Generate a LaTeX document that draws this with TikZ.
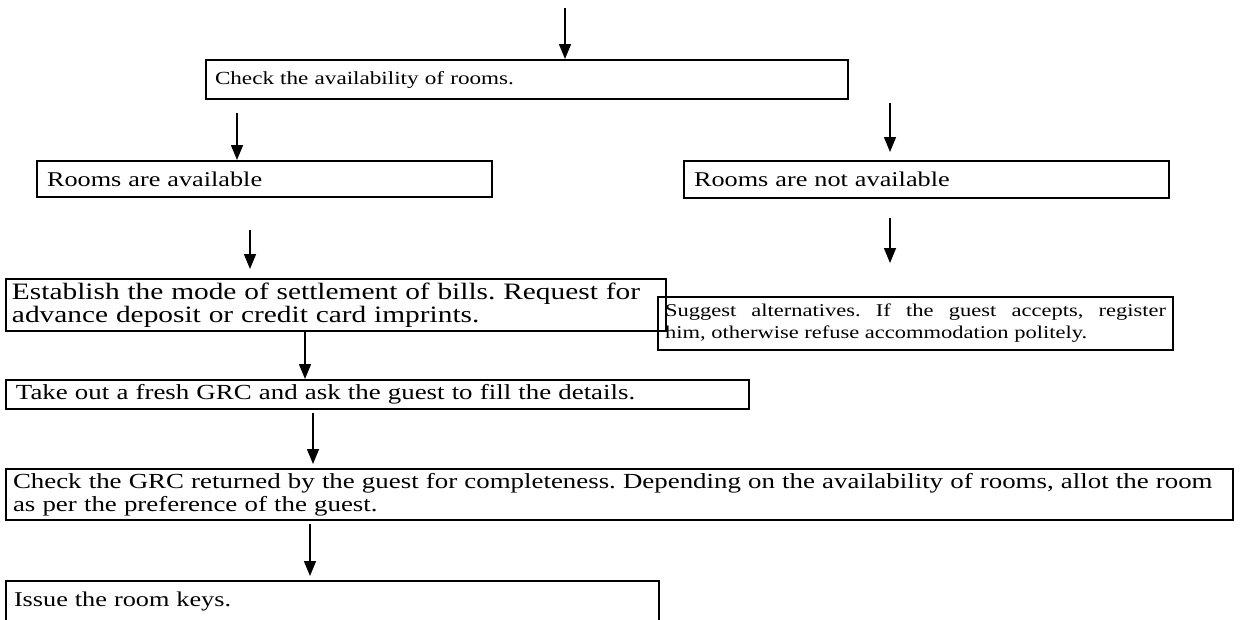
\documentclass[tikz,border=0pt]{standalone}
\usepackage{fontspec}
\setmainfont{Liberation Serif}[FakeStretch=1.25]
\usetikzlibrary{arrows.meta}
\begin{document}
\frenchspacing
\begin{tikzpicture}[x=1pt,y=-1pt,
  box/.style={draw,line width=2pt,anchor=north west,inner xsep=0pt,inner ysep=0pt,
    align=left,font=\fontsize{21}{22.5}\selectfont},
  arr/.style={line width=1.5pt,-{Triangle[length=15pt,width=12pt]}}]
\useasboundingbox (0,0) rectangle (1242,619);

\node[box,minimum width=642,minimum height=39,text width=624,font=\fontsize{18.5}{22}\selectfont] (A) at (205,59) {Check the availability of rooms.};
\node[box,minimum width=455,minimum height=36,text width=435] (B) at (36,160) {Rooms are available};
\node[box,minimum width=485,minimum height=37,text width=465] (C) at (683,160) {Rooms are not available};
\node[box,minimum width=660,minimum height=52,text width=648,font=\fontsize{23.5}{23}\selectfont] (D) at (5,278) {Establish the mode of settlement of bills. Request for\\advance deposit or credit card imprints.};
\node[box,minimum width=515,minimum height=53,text width=501,align=justify,font=\fontsize{18}{22}\selectfont] (E) at (657,296) {Suggest alternatives. If the guest accepts, register\linebreak him, otherwise refuse accommodation politely.};
\node[box,minimum width=743,minimum height=29,text width=723,font=\fontsize{21.5}{22.5}\selectfont] (F) at (5,379) {Take out a fresh GRC and ask the guest to fill the details.};
\node[box,minimum width=1227,minimum height=51,text width=1213,font=\fontsize{21.5}{22.5}\selectfont] (G) at (5,468) {Check the GRC returned by the guest for completeness. Depending on the availability of rooms, allot the room\\as per the preference of the guest.};
\node[box,minimum width=653,minimum height=40,text width=637] (H) at (5,580) {Issue the room keys.};

\coordinate (s0) at (565,8);
\coordinate (s1) at (237,113);
\coordinate (s2) at (890,103);
\coordinate (s3) at (250,230);
\coordinate (s4) at (890,218);
\coordinate (e4) at (890,263);
\coordinate (s5) at (305,330);
\coordinate (s6) at (313,413);
\coordinate (s7) at (310,524);

\draw[arr] (s0) -- (A.north -| s0);
\draw[arr] (s1) -- (B.north -| s1);
\draw[arr,shorten >=8pt] (s2) -- (C.north -| s2);
\draw[arr,shorten >=9pt] (s3) -- (D.north -| s3);
\draw[arr] (s4) -- (e4);
\draw[arr] (D.south -| s5) -- (F.north -| s5);
\draw[arr,shorten >=4pt] (s6) -- (G.north -| s6);
\draw[arr,shorten >=4pt] (s7) -- (H.north -| s7);
\end{tikzpicture}
\end{document}
